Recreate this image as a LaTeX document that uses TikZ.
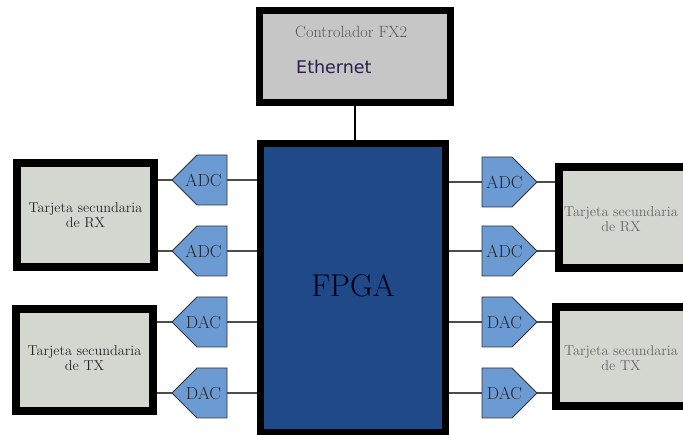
\documentclass[tikz,border=0pt]{standalone}
\usepackage{fontspec}
\newfontfamily\ethfont{DejaVu Sans}
\usetikzlibrary{backgrounds}
\definecolor{ctrlgray}{HTML}{C6C6C6}
\definecolor{cardgray}{HTML}{D4D6D0}
\definecolor{convblue}{HTML}{6B9BD2}
\definecolor{fpgablue}{HTML}{1F4A87}
\definecolor{ethcol}{HTML}{2B1D4A}
\begin{document}
\begin{tikzpicture}[x=1pt,y=-1pt,
  cardbox/.style={draw=black, fill=cardgray, line width=8pt, inner sep=0pt},
  cardtext/.style={align=center, font=\fontsize{14.3}{15}\selectfont, text=black!85},
  convnode/.style={rectangle, draw=none, minimum width=55pt, minimum height=50pt, inner sep=0pt, outer sep=0pt},
  convshape/.style={draw=black!80, fill=convblue, line width=0.8pt, line join=miter},
  convtext/.style={font=\fontsize{17.5}{19}\selectfont, text=black!85, inner sep=0pt},
  link/.style={draw=black!70, line width=1.5pt}]
\useasboundingbox (0,0) rectangle (683,435);
\clip (0,0) rectangle (683,435);

% controller
\node[draw=black, fill=ctrlgray, line width=7pt, minimum width=191pt, minimum height=92pt, inner sep=0pt] (ctrl) at (355,56.5) {};
\node[anchor=base west, font=\fontsize{16.3}{18}\selectfont, text=black!65, inner sep=0pt] (ctrltxt) at (295,38) {Controlador FX2};
\node[anchor=base west, font=\ethfont\fontsize{17.5}{19}\selectfont, text=ethcol, inner sep=0pt] (eth) at (296,74) {Ethernet};

% FPGA
\node[draw=black, fill=fpgablue, line width=7pt, minimum width=185pt, minimum height=289pt, inner sep=0pt] (fpga) at (353,288) {};
\node[anchor=base, font=\fontsize{31.5}{34}\selectfont, text=black!90!blue, inner sep=0pt] (fpgatxt) at (353,297) {FPGA};

% cards
\node[cardbox, minimum width=137pt, minimum height=104pt] (rxl) at (85.5,215) {};
\node[cardtext] (rxltxt) at (85.5,215) {Tarjeta secundaria\\de RX};
\node[cardbox, minimum width=137pt, minimum height=102pt] (txl) at (84.5,360) {};
\node[cardtext] (txltxt) at (84.5,358) {Tarjeta secundaria\\de TX};
\node[cardbox, minimum width=160pt, minimum height=101pt] (rxr) at (639,217.5) {};
\node[cardtext, text=black!60] (rxrtxt) at (621,219) {Tarjeta secundaria\\de RX};
\node[cardbox, minimum width=160pt, minimum height=99pt] (txr) at (636,356.5) {};
\node[cardtext, text=black!60] (txrtxt) at (621,358) {Tarjeta secundaria\\de TX};

% converters left (pointing west)
\foreach \n/\y/\t in {adcl1/180/ADC, adcl2/251/ADC, dacl1/322/DAC, dacl2/393/DAC} {
  \node[convnode] (\n) at (199.5,\y) {};
  \draw[convshape] (\n.north east) -- (\n.south east) -- ([xshift=25pt]\n.south west)
    -- (\n.west) -- ([xshift=25pt]\n.north west) -- cycle;
  \node[convtext] (\n t) at ([xshift=4pt]\n.center) {\t};
}
% converters right (pointing east)
\foreach \n/\y/\t in {adcr1/182/ADC, adcr2/251/ADC, dacr1/322/DAC, dacr2/393/DAC} {
  \node[convnode] (\n) at (509.5,\y) {};
  \draw[convshape] (\n.north west) -- (\n.south west) -- ([xshift=-25pt]\n.south east)
    -- (\n.east) -- ([xshift=-25pt]\n.north east) -- cycle;
  \node[convtext] (\n t) at ([xshift=-5pt]\n.center) {\t};
}

\begin{scope}[on background layer]
  \draw[draw=black, line width=1.5pt] (ctrl.south) -- (ctrl.south |- fpga.north);
  \foreach \c in {adcl1,adcl2} {
    \draw[link] (\c.west) -- (\c.west -| rxl.east);
    \draw[link] (\c.east) -- (\c.east -| fpga.west);
  }
  \foreach \c in {dacl1,dacl2} {
    \draw[link] (\c.west) -- (\c.west -| txl.east);
    \draw[link] (\c.east) -- (\c.east -| fpga.west);
  }
  \foreach \c in {adcr1,adcr2} {
    \draw[link] (\c.east) -- (\c.east -| rxr.west);
    \draw[link] (\c.west) -- (\c.west -| fpga.east);
  }
  \foreach \c in {dacr1,dacr2} {
    \draw[link] (\c.east) -- (\c.east -| txr.west);
    \draw[link] (\c.west) -- (\c.west -| fpga.east);
  }
\end{scope}
\end{tikzpicture}
\end{document}
